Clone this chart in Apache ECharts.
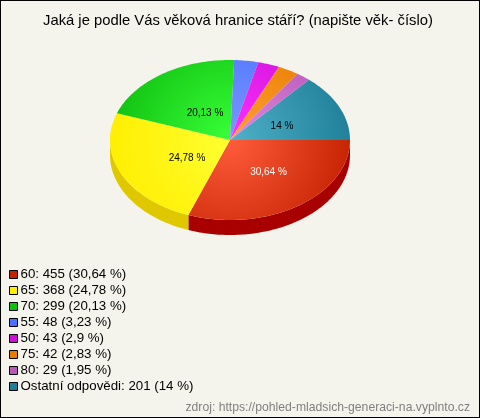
<!DOCTYPE html>
<html><head><meta charset="utf-8">
<style>html,body{margin:0;padding:0;background:#f5f4ec}
#c{width:480px;height:418px}
#f{position:absolute;left:0;top:0;width:480px;height:418px;box-sizing:border-box;border:1px solid #000;pointer-events:none}</style>
<script src="https://cdn.jsdelivr.net/npm/echarts@6/dist/echarts.min.js"></script>
</head><body><div id="c"></div><div id="f"></div>
<script>
const categories=['60','65','70','55','50','75','80','Ostatní odpovědi'];
const values=[455,368,299,48,43,42,29,201];
const percents=['30,64','24,78','20,13','3,23','2,9','2,83','1,95','14'];
const shown=[true,true,true,false,false,false,false,true];
const legendColors=['#c42200','#ffee00','#10c010','#4a70ff','#cc10d8','#e87c00','#b858b8','#1f7f98'];
const lightColors=['#ff5c3c','#ffff30','#38ff38','#7a98ff','#ff30ff','#ffa030','#e088e0','#50b0c8'];
const sideColors=['#a80000','#e0c800','#0a9a0a','#3050c8','#a000a8','#c06000','#904090','#106070'];
const labelColors=['#fff','#000','#000','#000','#000','#000','#000','#000'];
const labelAt=[[268.5,172.5],[187,158.5],[205,113],[0,0],[0,0],[0,0],[0,0],[282,126]];
const cx=230,cy=140,rx=120,ry=80,depth=15;
const total=values.reduce((a,b)=>a+b,0);
const startFrac=i=>values.slice(0,i).reduce((a,b)=>a+b,0)/total;
function pt(a,dy){return [cx+rx*Math.cos(a),cy+ry*Math.sin(a)+(dy||0)];}
function arcPts(a,b,dy){const n=Math.max(2,Math.ceil((b-a)/0.02));const o=[];for(let k=0;k<=n;k++)o.push(pt(a+(b-a)*k/n,dy));return o;}
function render(i){return function(params,api){
  const v=api.value(0);
  const a=startFrac(i)*2*Math.PI,b=a+v/total*2*Math.PI;
  const kids=[];
  const sa=a,sb=Math.min(b,Math.PI);
  if(sa<Math.PI){
    const top=arcPts(sa,sb,0),bot=arcPts(sa,sb,depth).reverse();
    kids.push({type:'polygon',shape:{points:top.concat(bot)},style:{fill:sideColors[i]}});
  }
  kids.push({type:'polygon',shape:{points:[[cx,cy]].concat(arcPts(a,b,0))},style:{
    fill:new echarts.graphic.RadialGradient(cx,cy,125,[{offset:0,color:lightColors[i]},{offset:1,color:legendColors[i]}],true)}});
  if(shown[i]){kids.push({type:'text',style:{x:labelAt[i][0],y:labelAt[i][1],text:percents[i]+' %',fill:labelColors[i],align:'center',verticalAlign:'middle',font:'10px "Liberation Sans", Arial, sans-serif'}});}
  return {type:'group',children:kids};
};}
const names=categories.map((c,i)=>c+': '+values[i]+' ('+percents[i]+' %)');
const option={
  animation:false,
  backgroundColor:'#f5f4ec',
  title:{text:'Jaká je podle Vás věková hranice stáří? (napište věk- číslo)',left:43,top:13,padding:0,itemGap:0,
    textStyle:{fontFamily:'"Liberation Sans", Arial, sans-serif',fontSize:14.8,fontWeight:'normal',color:'#000'}},
  legend:{orient:'vertical',left:9,top:268,padding:0,itemWidth:8,itemHeight:8,itemGap:3,icon:'rect',selectedMode:false,
    textStyle:{fontFamily:'"Liberation Sans", Arial, sans-serif',fontSize:13.3,lineHeight:13,color:'#000',padding:[0,0,0,-2]},
    data:names.map((n,i)=>({name:n,itemStyle:{color:legendColors[i],borderColor:'#000',borderWidth:1}}))},
  graphic:[{type:'text',right:10,top:402,style:{text:'zdroj: https://pohled-mladsich-generaci-na.vyplnto.cz',fill:'#808080',font:'12.2px "Liberation Sans", Arial, sans-serif'}}],
  series:names.map((n,i)=>({name:n,type:'custom',coordinateSystem:'none',silent:true,
    itemStyle:{color:legendColors[i]},data:[[values[i]]],renderItem:render(i)}))
};
echarts.init(document.getElementById('c')).setOption(option);
</script></body></html>
